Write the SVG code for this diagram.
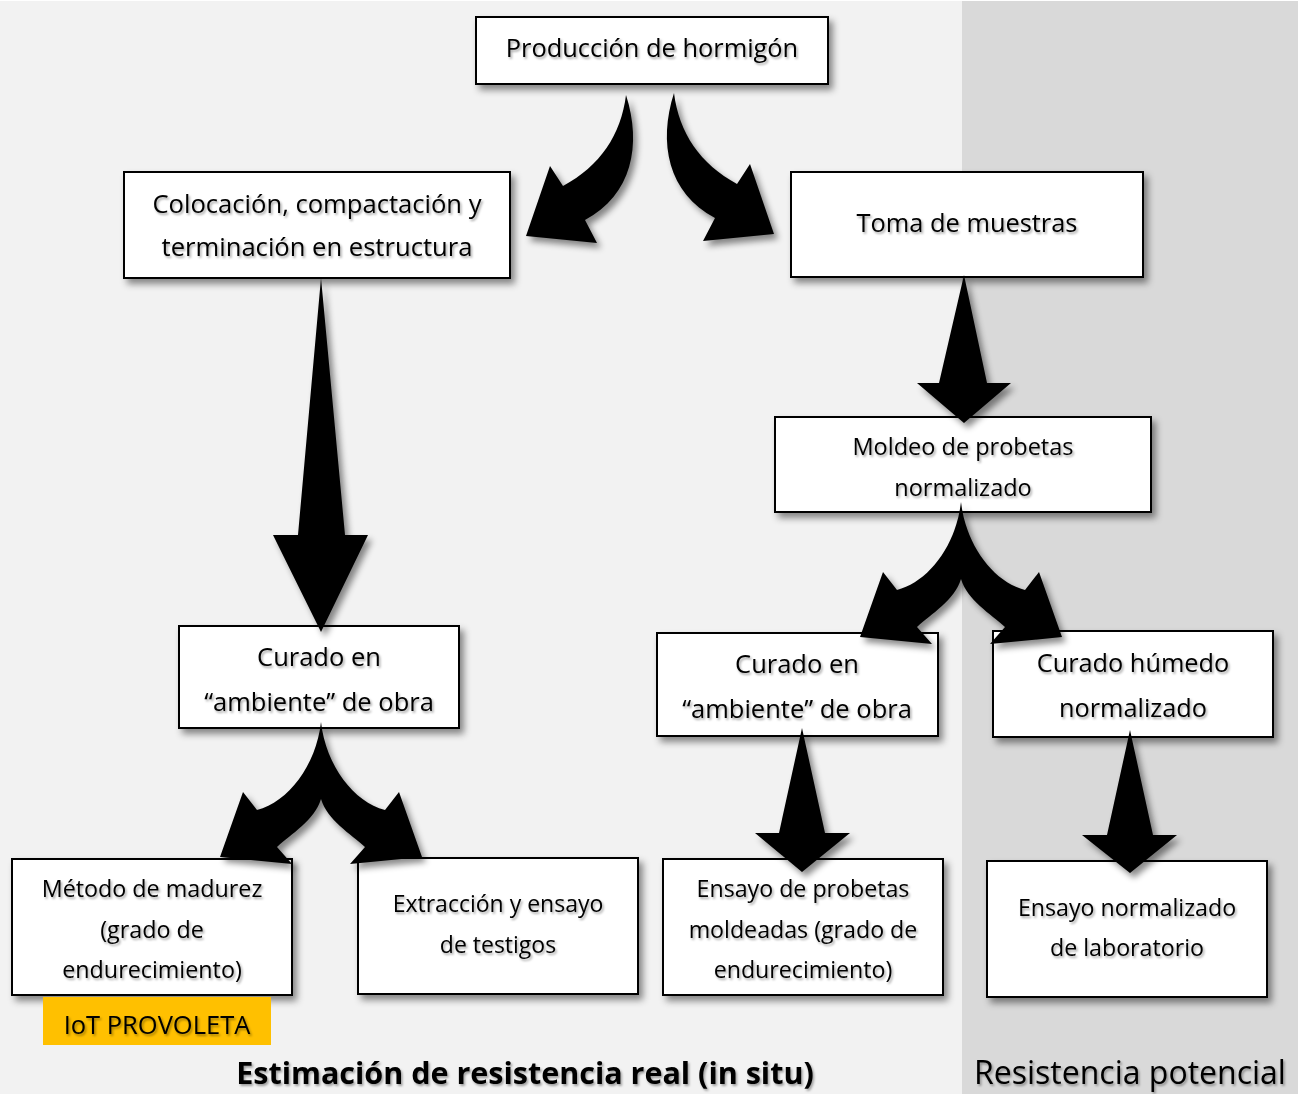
<svg xmlns="http://www.w3.org/2000/svg" xmlns:xlink="http://www.w3.org/1999/xlink" width="1307" height="1094" viewBox="0 0 1307 1094">
<style>
.box{fill:#fff;stroke:#000;stroke-width:2;filter:url(#sh)}
.t{font-family:"Open Sans","Liberation Sans",sans-serif;fill:#000;text-anchor:middle;filter:url(#tsh)}
.arr{fill:#000}
</style>
<defs>
<filter id="sh" x="-10%" y="-10%" width="125%" height="130%">
<feDropShadow dx="4" dy="5" stdDeviation="3.5" flood-color="#000" flood-opacity="0.45"/>
</filter>
<filter id="ash" x="-30%" y="-30%" width="160%" height="160%">
<feDropShadow dx="4" dy="5" stdDeviation="3" flood-color="#000" flood-opacity="0.45"/>
</filter>
<filter id="tsh" x="-5%" y="-20%" width="110%" height="150%">
<feDropShadow dx="1.5" dy="2" stdDeviation="1.3" flood-color="#000" flood-opacity="0.35"/>
</filter>
<path id="forkL" d="M0,0 C-5,44 -33,80 -64,88 L-78,70 L-101,135 L-29,142 L-44,125 C-30,112 -6,98 0,77 Z"/>
<path id="curveL" d="M0,0 C16,50 6,100 -41,125 L-29,148 L-100,141 L-76,71 L-63,91 C-26,71 -5,40 0,0 Z"/>
</defs>
<rect x="0" y="0" width="1307" height="1094" fill="#fff"/>
<rect x="0" y="1" width="962" height="1093" fill="#f2f2f2"/>
<rect x="962" y="1" width="336" height="1093" fill="#d9d9d9"/>

<g id="n1"><rect class="box" x="476" y="17" width="352" height="67"/><text class="t" x="652" y="57" font-size="25.4">Producción de hormigón</text></g>
<g id="n2"><rect class="box" x="124" y="172" width="386" height="106"/><text class="t" font-size="25.6"><tspan x="317" y="213">Colocación, compactación y</tspan><tspan x="317" y="256">terminación en estructura</tspan></text></g>
<g id="n3"><rect class="box" x="791" y="172" width="352" height="105"/><text class="t" x="967" y="232" font-size="25.4">Toma de muestras</text></g>
<g id="n4"><rect class="box" x="775" y="417" width="376" height="95"/><text class="t" font-size="23.5"><tspan x="963" y="455">Moldeo de probetas</tspan><tspan x="963" y="496">normalizado</tspan></text></g>
<g id="n5"><rect class="box" x="179" y="626" width="280" height="102"/><text class="t" font-size="25.5"><tspan x="319" y="666">Curado en</tspan><tspan x="319" y="711">“ambiente” de obra</tspan></text></g>
<g id="n6"><rect class="box" x="657" y="633" width="281" height="103"/><text class="t" font-size="25.5"><tspan x="797" y="673">Curado en</tspan><tspan x="797" y="718">“ambiente” de obra</tspan></text></g>
<g id="n7"><rect class="box" x="993" y="631" width="280" height="106"/><text class="t" font-size="25.3"><tspan x="1133" y="672">Curado húmedo</tspan><tspan x="1133" y="717">normalizado</tspan></text></g>
<g id="n8"><rect class="box" x="12" y="859" width="280" height="136"/><text class="t" font-size="23.3"><tspan x="152" y="897">Método de madurez</tspan><tspan x="152" y="938">(grado de</tspan><tspan x="152" y="978">endurecimiento)</tspan></text></g>
<g id="n9"><rect class="box" x="358" y="858" width="280" height="136"/><text class="t" font-size="23"><tspan x="498" y="912">Extracción y ensayo</tspan><tspan x="498" y="953">de testigos</tspan></text></g>
<g id="n10"><rect class="box" x="663" y="859" width="280" height="136"/><text class="t" font-size="23.2"><tspan x="803" y="897">Ensayo de probetas</tspan><tspan x="803" y="938">moldeadas (grado de</tspan><tspan x="803" y="978">endurecimiento)</tspan></text></g>
<g id="n11"><rect class="box" x="987" y="861" width="280" height="136"/><text class="t" font-size="23.2"><tspan x="1127" y="916">Ensayo normalizado</tspan><tspan x="1127" y="956">de laboratorio</tspan></text></g>

<g id="iot"><rect x="43" y="997" width="228" height="48" fill="#ffc000"/><text class="t" x="157" y="1034" font-size="25.5">IoT PROVOLETA</text></g>
<g id="lbl1"><text class="t" x="525" y="1084" font-size="30.5" font-weight="bold">Estimación de resistencia real (in situ)</text></g>
<g id="lbl2"><text class="t" x="1130" y="1084" font-size="32">Resistencia potencial</text></g>

<g id="connectors" class="arr" filter="url(#ash)">
<use xlink:href="#curveL" href="#curveL" transform="translate(626,95)"/>
<use xlink:href="#curveL" href="#curveL" transform="translate(674,93) scale(-1,1)"/>
<polygon points="321,278 345,535 368,535 321,632 273,535 298,535"/>
<polygon points="964,275 987,383 1011,383 964,423 917,383 939,383"/>
<polygon points="802,728 825,833 850,833 802,872 755,833 779,833"/>
<polygon points="1130,730 1153,835 1177,835 1130,873 1082,835 1107,835"/>
<use xlink:href="#forkL" href="#forkL" transform="translate(321,722)"/>
<use xlink:href="#forkL" href="#forkL" transform="translate(321,722) scale(-1,1)"/>
<use xlink:href="#forkL" href="#forkL" transform="translate(961,502)"/>
<use xlink:href="#forkL" href="#forkL" transform="translate(961,502) scale(-1,1)"/>
</g>
</svg>
